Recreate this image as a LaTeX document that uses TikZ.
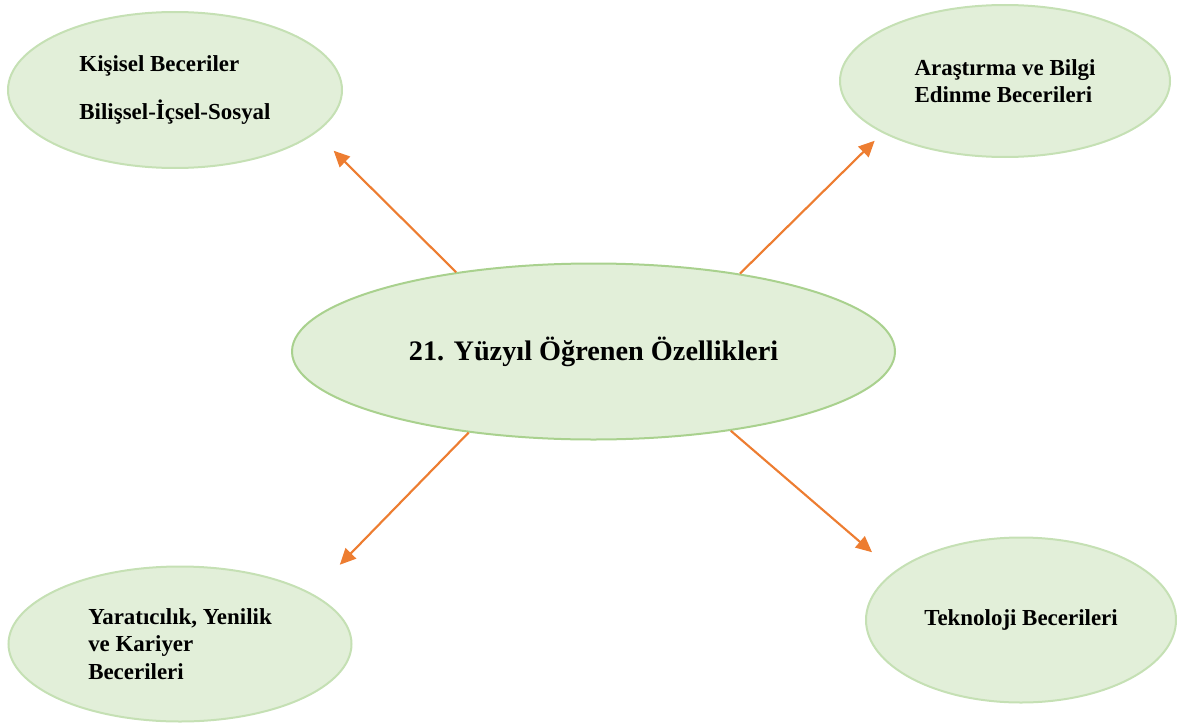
\documentclass[tikz,border=0pt]{standalone}
\usepackage{fontspec}
\setmainfont{Liberation Serif}
\usetikzlibrary{shapes.geometric,arrows.meta}
\definecolor{leaffill}{HTML}{E2EFD9}
\definecolor{leafline}{HTML}{C5E0B4}
\definecolor{coreline}{HTML}{A9D18E}
\definecolor{linkorange}{HTML}{ED7D31}
\tikzstyle{skill}=[ellipse,draw=leafline,fill=leaffill,line width=1.5pt,inner sep=0pt,align=left,font=\fontsize{17.2}{20.6}\selectfont\bfseries]
\tikzstyle{core}=[skill,draw=coreline,font=\fontsize{21.2}{25}\selectfont\bfseries]
\tikzstyle{link}=[draw=linkorange,line width=1.6pt,-{Triangle[length=12pt,width=11pt]}]

\begin{document}
\begin{tikzpicture}[x=0.75pt,y=-0.75pt]
    \useasboundingbox (0,0) rectangle (1177,724);
    % center
    \node[core,minimum width=452.25pt,minimum height=132pt] (ogrenen) at (593.5,351.5) {21. Yüzyıl Öğrenen Özellikleri};
    % the four skill groups
    \node[skill,minimum width=250.5pt,minimum height=117pt] (kisisel) at (175,90) {Kişisel Beceriler\\[15.4pt]Bilişsel-İçsel-Sosyal};
    \node[skill,minimum width=247.5pt,minimum height=114pt] (arastirma) at (1005,81) {Araştırma ve Bilgi\\Edinme Becerileri};
    \node[skill,minimum width=257.25pt,minimum height=116.25pt] (yaraticilik) at (180,644) {Yaratıcılık, Yenilik\\ve Kariyer\\Becerileri};
    \node[skill,minimum width=232.5pt,minimum height=123.75pt] (teknoloji) at (1021,620) {Teknoloji Becerileri};
    % arrows
    \draw[link,shorten >=18.8pt] (ogrenen.150.5) -- (kisisel.343);
    \draw[link,shorten >=8.3pt] (ogrenen.28.4) -- (arastirma.203.6);
    \draw[link,shorten >=30pt] (ogrenen.213.1) -- (yaraticilik.21.1);
    \draw[link,shorten >=22pt] (ogrenen.330.9) -- (teknoloji.159);
\end{tikzpicture}
\end{document}
